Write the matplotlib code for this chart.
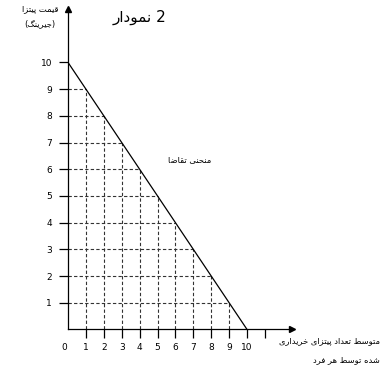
import matplotlib
matplotlib.use("Agg")
import matplotlib.pyplot as plt

# demand schedule: price -> quantity
price = [10, 9, 8, 7, 6, 5, 4, 3, 2, 1, 0]
quantity = [0, 1, 2, 3, 4, 5, 6, 7, 8, 9, 10]
x_ticks = [1, 2, 3, 4, 5, 6, 7, 8, 9, 10, 11]
x_tick_labels = ["1", "2", "3", "4", "5", "6", "7", "8", "9", "10", ""]
y_ticks = [1, 2, 3, 4, 5, 6, 7, 8, 9, 10]

title_word = "نمودار"
title_num = "2"
ylabel_lines = ["قیمت پیتزا", "(جیرینگ)"]
xlabel_lines = ["متوسط تعداد پیتزای خریداری", "شده توسط هر فرد"]
curve_txt = "منحنی تقاضا"

# minimal Arabic/Persian shaping (matplotlib has no shaping / bidi)
FORMS = {
    "ا": ("\uFE8D", "\uFE8E", None, None),
    "ب": ("\uFE8F", "\uFE90", "\uFE91", "\uFE92"),
    "پ": ("\uFB56", "\uFB57", "\uFB58", "\uFB59"),
    "ت": ("\uFE95", "\uFE96", "\uFE97", "\uFE98"),
    "ج": ("\uFE9D", "\uFE9E", "\uFE9F", "\uFEA0"),
    "ح": ("\uFEA1", "\uFEA2", "\uFEA3", "\uFEA4"),
    "خ": ("\uFEA5", "\uFEA6", "\uFEA7", "\uFEA8"),
    "د": ("\uFEA9", "\uFEAA", None, None),
    "ر": ("\uFEAD", "\uFEAE", None, None),
    "ز": ("\uFEAF", "\uFEB0", None, None),
    "س": ("\uFEB1", "\uFEB2", "\uFEB3", "\uFEB4"),
    "ش": ("\uFEB5", "\uFEB6", "\uFEB7", "\uFEB8"),
    "ض": ("\uFEBD", "\uFEBE", "\uFEBF", "\uFEC0"),
    "ط": ("\uFEC1", "\uFEC2", "\uFEC3", "\uFEC4"),
    "ع": ("\uFEC9", "\uFECA", "\uFECB", "\uFECC"),
    "ف": ("\uFED1", "\uFED2", "\uFED3", "\uFED4"),
    "ق": ("\uFED5", "\uFED6", "\uFED7", "\uFED8"),
    "گ": ("\uFB92", "\uFB93", "\uFB94", "\uFB95"),
    "م": ("\uFEE1", "\uFEE2", "\uFEE3", "\uFEE4"),
    "ن": ("\uFEE5", "\uFEE6", "\uFEE7", "\uFEE8"),
    "ه": ("\uFEE9", "\uFEEA", "\uFEEB", "\uFEEC"),
    "و": ("\uFEED", "\uFEEE", None, None),
    "ی": ("\uFBFC", "\uFBFD", "\uFBFE", "\uFBFF"),
}


def shape(s):
    out = []
    for i, c in enumerate(s):
        if c not in FORMS:
            out.append(c)
            continue
        prev = s[i - 1] if i > 0 else ""
        nxt = s[i + 1] if i + 1 < len(s) else ""
        j_prev = prev in FORMS and FORMS[prev][2] is not None
        j_next = FORMS[c][2] is not None and nxt in FORMS
        iso, fin, ini, med = FORMS[c]
        if j_prev and j_next:
            out.append(med)
        elif j_prev:
            out.append(fin)
        elif j_next:
            out.append(ini)
        else:
            out.append(iso)
    vis = "".join(reversed(out))
    return vis.translate(str.maketrans("()", ")("))


plt.rcParams["font.family"] = ["DejaVu Sans"]

fig = plt.figure(figsize=(3.9, 3.68), dpi=100)
ax = fig.add_axes([68 / 390, (368 - 329.4) / 368, 12.5 * 17.9 / 390, 12 * 26.7 / 368])
ax.set_xlim(0, 12.5)
ax.set_ylim(0, 12)
ax.patch.set_visible(False)
for s in ("top", "right"):
    ax.spines[s].set_visible(False)
for s in ("left", "bottom"):
    ax.spines[s].set_linewidth(0.9)
    ax.spines[s].set_color("black")

# arrow heads on axes
ax.plot([12.5], [0], marker=">", color="black", ms=5, clip_on=False)
ax.plot([0], [12], marker="^", color="black", ms=5, clip_on=False)

# dashed guide lines from the demand schedule
dash = dict(color="#333333", lw=0.8, ls=(0, (3, 2)))
for q, p in zip(quantity[1:-1], price[1:-1]):
    ax.plot([q, q], [0, p], **dash)
    ax.plot([0, q], [p, p], **dash)

ax.plot(quantity, price, color="black", lw=0.9)

ax.set_xticks(x_ticks)
ax.set_xticklabels(x_tick_labels)
ax.set_yticks(y_ticks)
ax.set_yticklabels([str(v) for v in y_ticks])
ax.tick_params(axis="both", direction="out", length=6.5, width=0.9,
               labelsize=6.5)
ax.tick_params(axis="x", pad=3)
ax.tick_params(axis="y", pad=5)
ax.annotate("0", xy=(-0.2, 0), xytext=(0, -9.5), textcoords="offset points",
            ha="center", va="top", fontsize=6.5, annotation_clip=False)

ax.text(5.6, 6.35, shape(curve_txt), ha="left", va="center", fontsize=6)

fig.text(140 / 390, 1 - 17 / 368, shape(title_word) + " " + title_num,
         ha="center", va="center", fontsize=11)
fig.text(40 / 390, 1 - 9 / 368, shape(ylabel_lines[0]), ha="center",
         va="center", fontsize=6)
fig.text(40 / 390, 1 - 24 / 368, shape(ylabel_lines[1]), ha="center",
         va="center", fontsize=6)
fig.text(380 / 390, 1 - 341 / 368, shape(xlabel_lines[0]), ha="right",
         va="center", fontsize=6)
fig.text(380 / 390, 1 - 360 / 368, shape(xlabel_lines[1]), ha="right",
         va="center", fontsize=6)

fig.savefig("out.png", dpi=100)
